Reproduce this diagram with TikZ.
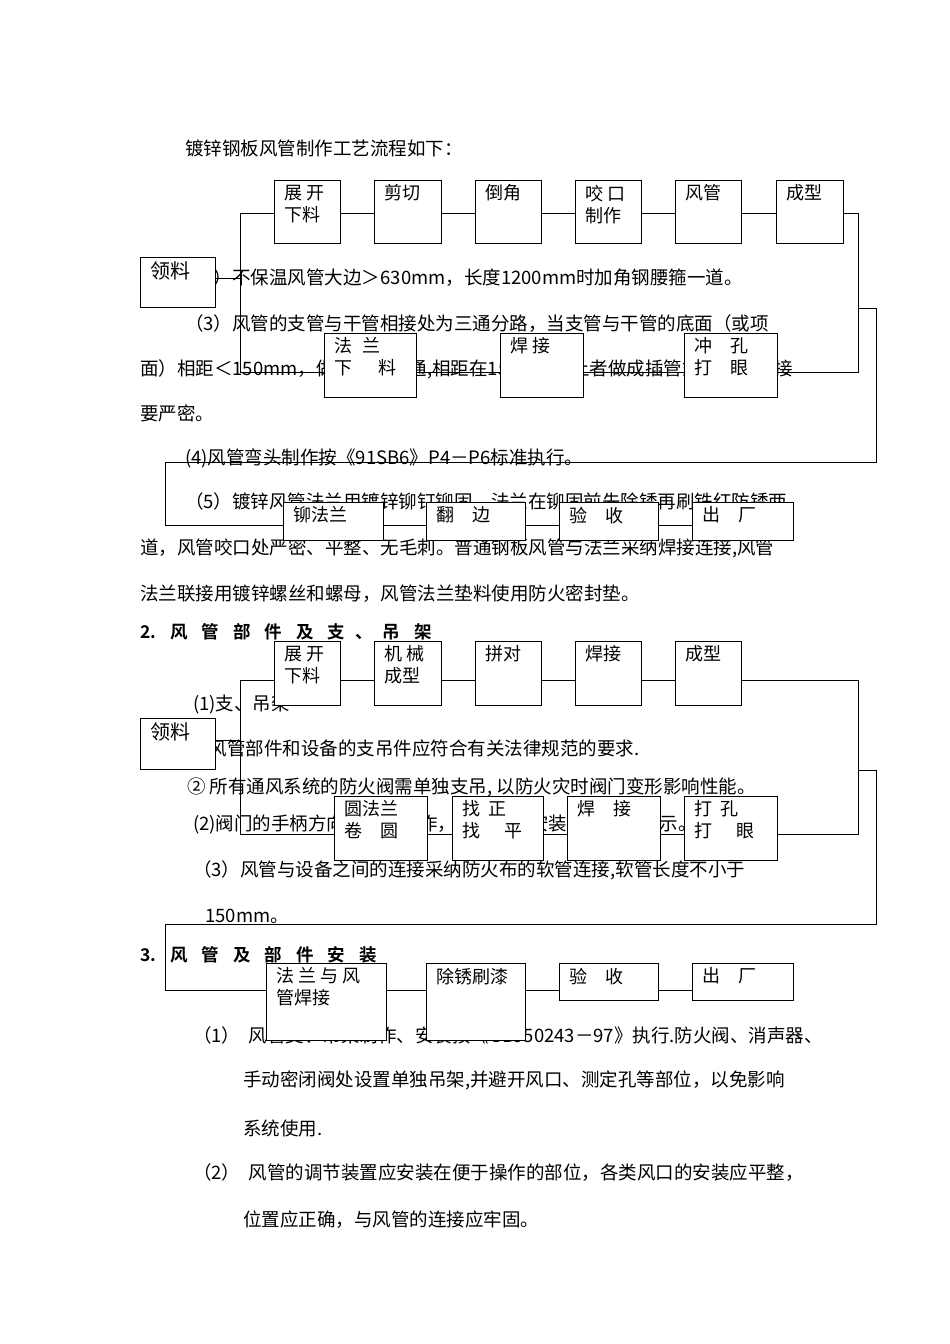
\documentclass[tikz,border=0pt]{standalone}
\usepackage{fontspec}
\usetikzlibrary{calc}
\setmainfont{Noto Sans CJK SC}
\newfontfamily\cjkb{Noto Sans CJK SC Bold}
\newcommand\bxx[6]{\node[bx,minimum width=#4pt-#2pt,minimum height=#5pt-#3pt] (#1) at ({(#2+#4)/2},{(#3+#5)/2}) {};
  \node[lbl] (#1l) at ($(#1.north west)+(11,5)$) {#6};}
\begin{document}
\begin{tikzpicture}[x=1pt,y=-1pt,
  txt/.style={anchor=west,inner sep=0,font=\fontsize{18.5}{20}\selectfont},
  bx/.style={draw,fill=white,line width=0.8pt,inner sep=0},
  lbl/.style={anchor=north west,inner sep=0,align=left,font=\fontsize{18}{22}\selectfont},
  ln/.style={line width=0.8pt}]
\useasboundingbox (0,0) rectangle (950,1344);
% ---------- text ----------
\node[txt] (t1) at (185,148) {镀锌钢板风管制作工艺流程如下：};
\node[txt] (t2) at (185,278) {（2）不保温风管大边＞630mm，长度1200mm时加角钢腰箍一道。};
\node[txt] (t3) at (185,324) {（3）风管的支管与干管相接处为三通分路，当支管与干管的底面（或项};
\node[txt] (t4) at (140,369) {面）相距＜150mm，做成裤衩三通,相距在150mm以上者做成插管式连接，连接};
\node[txt] (t5) at (140,413) {要严密。};
\node[txt] (t6) at (185,458) {(4)风管弯头制作按《91SB6》P4－P6标准执行。};
\node[txt] (t7) at (185,502) {（5）镀锌风管法兰用镀锌铆钉铆固，法兰在铆固前先除锈再刷铁红防锈两};
\node[txt] (t8) at (140,548) {道，风管咬口处严密、平整、无毛刺。普通钢板风管与法兰采纳焊接连接,风管};
\node[txt] (t9) at (140,594) {法兰联接用镀锌螺丝和螺母，风管法兰垫料使用防火密封垫。};
\node[txt,font=\fontsize{17.5}{20}\cjkb] (t10) at (140,632) {2.\hspace{14pt}风\hspace{14pt}管\hspace{14pt}部\hspace{14pt}件\hspace{14pt}及\hspace{14pt}支\hspace{10pt}、\hspace{10pt}吊\hspace{14pt}架};
\node[txt] (t11) at (193,705) {(1)支、吊架};
\node[txt] (t12) at (190,748) {①风管部件和设备的支吊件应符合有关法律规范的要求.};
\node[txt] (t13) at (187,787) {② 所有通风系统的防火阀需单独支吊, 以防火灾时阀门变形影响性能。};
\node[txt] (t14) at (193,824) {(2)阀门的手柄方向应便于操作，所有阀门安装应有开关指示。};
\node[txt] (t15) at (193,870) {（3）风管与设备之间的连接采纳防火布的软管连接,软管长度不小于};
\node[txt] (t16) at (205,916) {150mm。};
\node[txt,font=\fontsize{17.5}{20}\cjkb] (t17) at (140,955) {3.\hspace{14pt}风\hspace{14pt}管\hspace{14pt}及\hspace{14pt}部\hspace{14pt}件\hspace{14pt}安\hspace{14pt}装};
\node[txt] (t18) at (193,1035) {（1）\ \ 风管支、吊架制作、安装按《GBJ50243－97》执行.防火阀、消声器、};
\node[txt] (t19) at (243,1080) {手动密闭阀处设置单独吊架,并避开风口、测定孔等部位，以免影响};
\node[txt] (t20) at (243,1128) {系统使用.};
\node[txt] (t21) at (193,1173) {（2）\ \ 风管的调节装置应安装在便于操作的部位，各类风口的安装应平整，};
\node[txt] (t22) at (243,1220) {位置应正确，与风管的连接应牢固。};
% ---------- connectors, flow 1 ----------
\coordinate (a1) at (240,213); \coordinate (a2) at (240,372);
\coordinate (a3) at (858,213); \coordinate (a4) at (858,372);
\coordinate (a5) at (858,308); \coordinate (a6) at (876,308);
\coordinate (a7) at (876,462); \coordinate (a8) at (165,462);
\coordinate (a9) at (165,525); \coordinate (a10) at (793,525);
\coordinate (a0) at (215,278);
\draw[ln] (a0) -- (a0 -| a1);
\draw[ln] (a2) -- (a1) -- (a3) -- (a4) -- (a2);
\draw[ln] (a5) -- (a6) -- (a7) -- (a8) -- (a9) -- (a10);
% ---------- connectors, flow 2 ----------
\coordinate (b1) at (240,680); \coordinate (b2) at (240,834);
\coordinate (b3) at (858,680); \coordinate (b4) at (858,834);
\coordinate (b5) at (858,770); \coordinate (b6) at (876,770);
\coordinate (b7) at (876,924); \coordinate (b8) at (165,924);
\coordinate (b9) at (165,990); \coordinate (b10) at (793,990);
\coordinate (b0) at (215,740);
\draw[ln] (b0) -- (b0 -| b1);
\draw[ln] (b2) -- (b1) -- (b3) -- (b4) -- (b2);
\draw[ln] (b5) -- (b6) -- (b7) -- (b8) -- (b9) -- (b10);
% ---------- boxes flow 1 ----------
\bxx{p0}{140}{257}{215}{307}{\fontsize{20}{22}\selectfont 领料}
\bxx{p1}{274}{180}{340}{243}{展\hspace{4pt}开\\下料}
\bxx{p2}{374}{180}{441}{243}{剪切}
\bxx{p3}{475}{180}{541}{243}{倒角}
\bxx{p4}{575}{180}{641}{243}{咬\hspace{4pt}口\\制作}
\bxx{p5}{675}{180}{741}{243}{风管}
\bxx{p6}{776}{180}{843}{243}{成型}
\bxx{q1}{324}{333}{416}{397}{法\hspace{10pt}兰\\下\hspace{26pt}料}
\bxx{q2}{500}{333}{583}{397}{焊\hspace{4pt}接}
\bxx{q3}{684}{333}{777}{397}{冲\hspace{18pt}孔\\打\hspace{18pt}眼}
\bxx{r1}{283}{502}{383}{540}{铆法兰}
\bxx{r2}{426}{502}{525}{540}{翻\hspace{18pt}边}
\bxx{r3}{559}{502}{658}{540}{验\hspace{18pt}收}
\bxx{r4}{692}{502}{793}{540}{出\hspace{18pt}厂}
% ---------- boxes flow 2 ----------
\bxx{s0}{140}{718}{215}{769}{\fontsize{20}{22}\selectfont 领料}
\bxx{s1}{274}{641}{340}{705}{展\hspace{4pt}开\\下料}
\bxx{s2}{374}{641}{441}{705}{机\hspace{4pt}械\\成型}
\bxx{s3}{475}{641}{541}{705}{拼对}
\bxx{s4}{575}{641}{641}{705}{焊接}
\bxx{s5}{675}{641}{741}{705}{成型}
\bxx{u1}{334}{796}{427}{860}{圆法兰\\卷\hspace{18pt}圆}
\bxx{u2}{452}{796}{543}{860}{找\hspace{8pt}正\\找\hspace{24pt}平}
\bxx{u3}{567}{796}{660}{860}{焊\hspace{18pt}接}
\bxx{u4}{684}{796}{777}{860}{打\hspace{8pt}孔\\打\hspace{24pt}眼}
\bxx{v1}{266}{963}{386}{1040}{法\hspace{4pt}兰\hspace{4pt}与\hspace{4pt}风\\管焊接}
\bxx{v2}{426}{963}{525}{1040}{除锈刷漆}
\bxx{v3}{559}{963}{658}{1000}{验\hspace{18pt}收}
\bxx{v4}{692}{963}{793}{1000}{出\hspace{18pt}厂}
\end{tikzpicture}
\end{document}
